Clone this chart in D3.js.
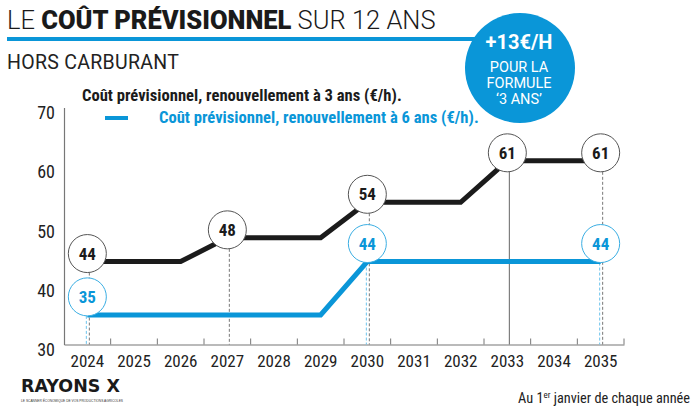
<!DOCTYPE html>
<html>
<head>
<meta charset="utf-8">
<script src="https://cdn.jsdelivr.net/npm/d3@7"></script>
<style>
  html, body { margin: 0; padding: 0; background: #fff; }
  svg { display: block; }
</style>
</head>
<body>
<svg id="chart" width="700" height="414"></svg>
<script>
// ---- data ----
const years = [2024, 2025, 2026, 2027, 2028, 2029, 2030, 2031, 2032, 2033, 2034, 2035];
const cost3ans = [44, 44, 44, 48, 48, 48, 54, 54, 54, 61, 61, 61];
const cost6ans = [35, 35, 35, 35, 35, 35, 44, 44, 44, 44, 44, 44];
const labeled3 = [2024, 2027, 2030, 2033, 2035];
const labeled6 = [2024, 2030, 2035];
const yTicks = [30, 40, 50, 60, 70];
const legend3 = "Coût prévisionnel, renouvellement à 3 ans (€/h).";
const legend6 = "Coût prévisionnel, renouvellement à 6 ans (€/h).";

const BLUE = "#0a96d8";
const LIGHTBLUE = "#3aaee3";
const BLACK = "#1b1b1b";
const NARROW = '"Liberation Sans Narrow", "Roboto Condensed", "Arial Narrow", "Liberation Sans", sans-serif';

const svg = d3.select("#chart");

// ---- header ----
const title = svg.append("text").attr("x", 7).attr("y", 29)
  .style("font-family", "Roboto, 'Liberation Sans', sans-serif").style("font-size", "25.5px").attr("fill", "#1a1a1a");
title.append("tspan").text("LE ").style("font-weight", 300);
title.append("tspan").text("COÛT PRÉVISIONNEL").style("font-weight", 900);
title.append("tspan").text(" SUR 12 ANS").style("font-weight", 300);

svg.append("line").attr("x1", 7).attr("x2", 480).attr("y1", 39).attr("y2", 39)
  .attr("stroke", BLUE).attr("stroke-width", 4);

svg.append("text").attr("x", 7).attr("y", 69).text("HORS CARBURANT")
  .style("font-family", "Roboto, 'Liberation Sans', sans-serif").style("font-size", "19.5px")
  .style("letter-spacing", "0.3px").style("font-weight", 400).attr("fill", "#222");

// badge
const badge = svg.append("g");
badge.append("circle").attr("cx", 520).attr("cy", 68).attr("r", 55).attr("fill", BLUE);
badge.append("text").attr("x", 519).attr("y", 49).attr("text-anchor", "middle")
  .style("font-family", "Roboto, sans-serif").style("font-weight", 700).style("font-size", "20px")
  .attr("fill", "#fff").text("+13€/H");
[["POUR LA", 72], ["FORMULE", 88], ["‘3 ANS’", 104]].forEach(([t, yy]) => {
  badge.append("text").attr("x", 519).attr("y", yy).attr("text-anchor", "middle")
    .style("font-family", "Roboto, sans-serif").style("font-weight", 400).style("font-size", "14.5px")
    .attr("fill", "#fff").text(t);
});

// ---- scales ----
const x = d3.scaleBand().domain(years).range([64, 624]);
const y = d3.scaleLinear().domain([30, 70]).range([344.5, 107.5]);
const cx = d => x(d) + x.bandwidth() / 2;

// ---- axes ----
const gy = svg.append("g").attr("transform", "translate(64,0)")
  .call(d3.axisLeft(y).tickValues(yTicks).tickSize(0).tickPadding(9));
gy.select(".domain").attr("stroke", "#777").attr("stroke-width", 1.2);
gy.selectAll("text").attr("dy", "0.62em").style("font-family", NARROW).style("font-size", "18px").attr("fill", "#222");

const gx = svg.append("g").attr("transform", `translate(0,${y(30)})`)
  .call(d3.axisBottom(x).tickSize(0).tickPadding(10));
gx.select(".domain").attr("stroke", "#777").attr("stroke-width", 1.2);
gx.selectAll("text").style("font-family", NARROW).style("font-size", "17px").attr("fill", "#222");
// ticks at band boundaries (pointing up)
const boundaries = years.slice(1).map(d => x(d)).concat([x.range()[1]]);
svg.append("g").selectAll("line").data(boundaries)
  .join("line")
  .attr("x1", d => d).attr("x2", d => d)
  .attr("y1", y(30)).attr("y2", y(30) - 6)
  .attr("stroke", "#777").attr("stroke-width", 1);

// ---- series data ----
const s3 = years.map((yr, i) => ({ year: yr, v: cost3ans[i] }));
const s6 = years.map((yr, i) => ({ year: yr, v: cost6ans[i] }));
const R = 19;
const off3 = -8, off6 = -18;

// verticals
const vert = svg.append("g");
labeled3.forEach(yr => {
  const d = s3.find(p => p.year === yr);
  vert.append("line").attr("x1", cx(yr) + 2).attr("x2", cx(yr) + 2)
    .attr("y1", y(d.v) + off3 + R).attr("y2", y(30))
    .attr("stroke", yr === 2033 ? "#666" : "#777").attr("stroke-width", 1)
    .attr("stroke-dasharray", yr === 2033 ? null : "3,2");
});
labeled6.forEach(yr => {
  const d = s6.find(p => p.year === yr);
  vert.append("line").attr("x1", cx(yr) - 1).attr("x2", cx(yr) - 1)
    .attr("y1", y(d.v) + off6 + R).attr("y2", y(30))
    .attr("stroke", "#6cc3ec").attr("stroke-width", 1).attr("stroke-dasharray", "3,2");
});

// lines
const line = d3.line().x(d => cx(d.year)).y(d => y(d.v));
svg.append("path").datum(s6).attr("d", line).attr("fill", "none")
  .attr("stroke", BLUE).attr("stroke-width", 5).attr("stroke-linejoin", "miter");
svg.append("path").datum(s3).attr("d", line).attr("fill", "none")
  .attr("stroke", BLACK).attr("stroke-width", 5).attr("stroke-linejoin", "miter");

// labels
function bubbles(series, list, off, stroke, color) {
  const g = svg.append("g");
  list.forEach(yr => {
    const d = series.find(p => p.year === yr);
    g.append("circle").attr("cx", cx(yr)).attr("cy", y(d.v) + off).attr("r", R)
      .attr("fill", "#fff").attr("stroke", stroke).attr("stroke-width", 1);
    g.append("text").attr("x", cx(yr)).attr("y", y(d.v) + off).attr("dy", "0.36em")
      .attr("text-anchor", "middle").style("font-family", NARROW).style("font-weight", 700)
      .style("font-size", "17px").attr("fill", color).text(d.v);
  });
}
bubbles(s3, labeled3, off3, "#555", BLACK);
bubbles(s6, labeled6, off6, LIGHTBLUE, BLUE);

// ---- legend ----
svg.append("text").attr("x", 82).attr("y", 101).text(legend3)
  .style("font-family", NARROW).style("font-weight", 700).style("font-size", "16.6px").attr("fill", BLACK);
svg.append("line").attr("x1", 105).attr("x2", 128).attr("y1", 118).attr("y2", 118)
  .attr("stroke", BLUE).attr("stroke-width", 4);
svg.append("text").attr("x", 159).attr("y", 123).text(legend6)
  .style("font-family", NARROW).style("font-weight", 700).style("font-size", "16.6px").attr("fill", BLUE);

// ---- footer ----
svg.append("text").attr("x", 21).attr("y", 392).text("RAYONS X")
  .style("font-family", "'DejaVu Sans', sans-serif").style("font-weight", 700).style("font-size", "18px")
  .attr("textLength", 99).attr("lengthAdjust", "spacingAndGlyphs").attr("fill", "#1a1a1a");
svg.append("text").attr("x", 21).attr("y", 402).text("LE SCANNER ÉCONOMIQUE DE VOS PRODUCTIONS AGRICOLES")
  .style("font-family", "'Liberation Sans', sans-serif").style("font-size", "4px")
  .attr("textLength", 102).attr("lengthAdjust", "spacingAndGlyphs").attr("fill", "#333");

const foot = svg.append("text").attr("x", 690).attr("y", 403).attr("text-anchor", "end")
  .style("font-family", NARROW).style("font-size", "14.3px").attr("fill", "#222");
foot.append("tspan").text("Au 1");
foot.append("tspan").text("er").attr("dy", -5).style("font-size", "9px");
foot.append("tspan").text(" janvier de chaque année").attr("dy", 5);
</script>
</body>
</html>
